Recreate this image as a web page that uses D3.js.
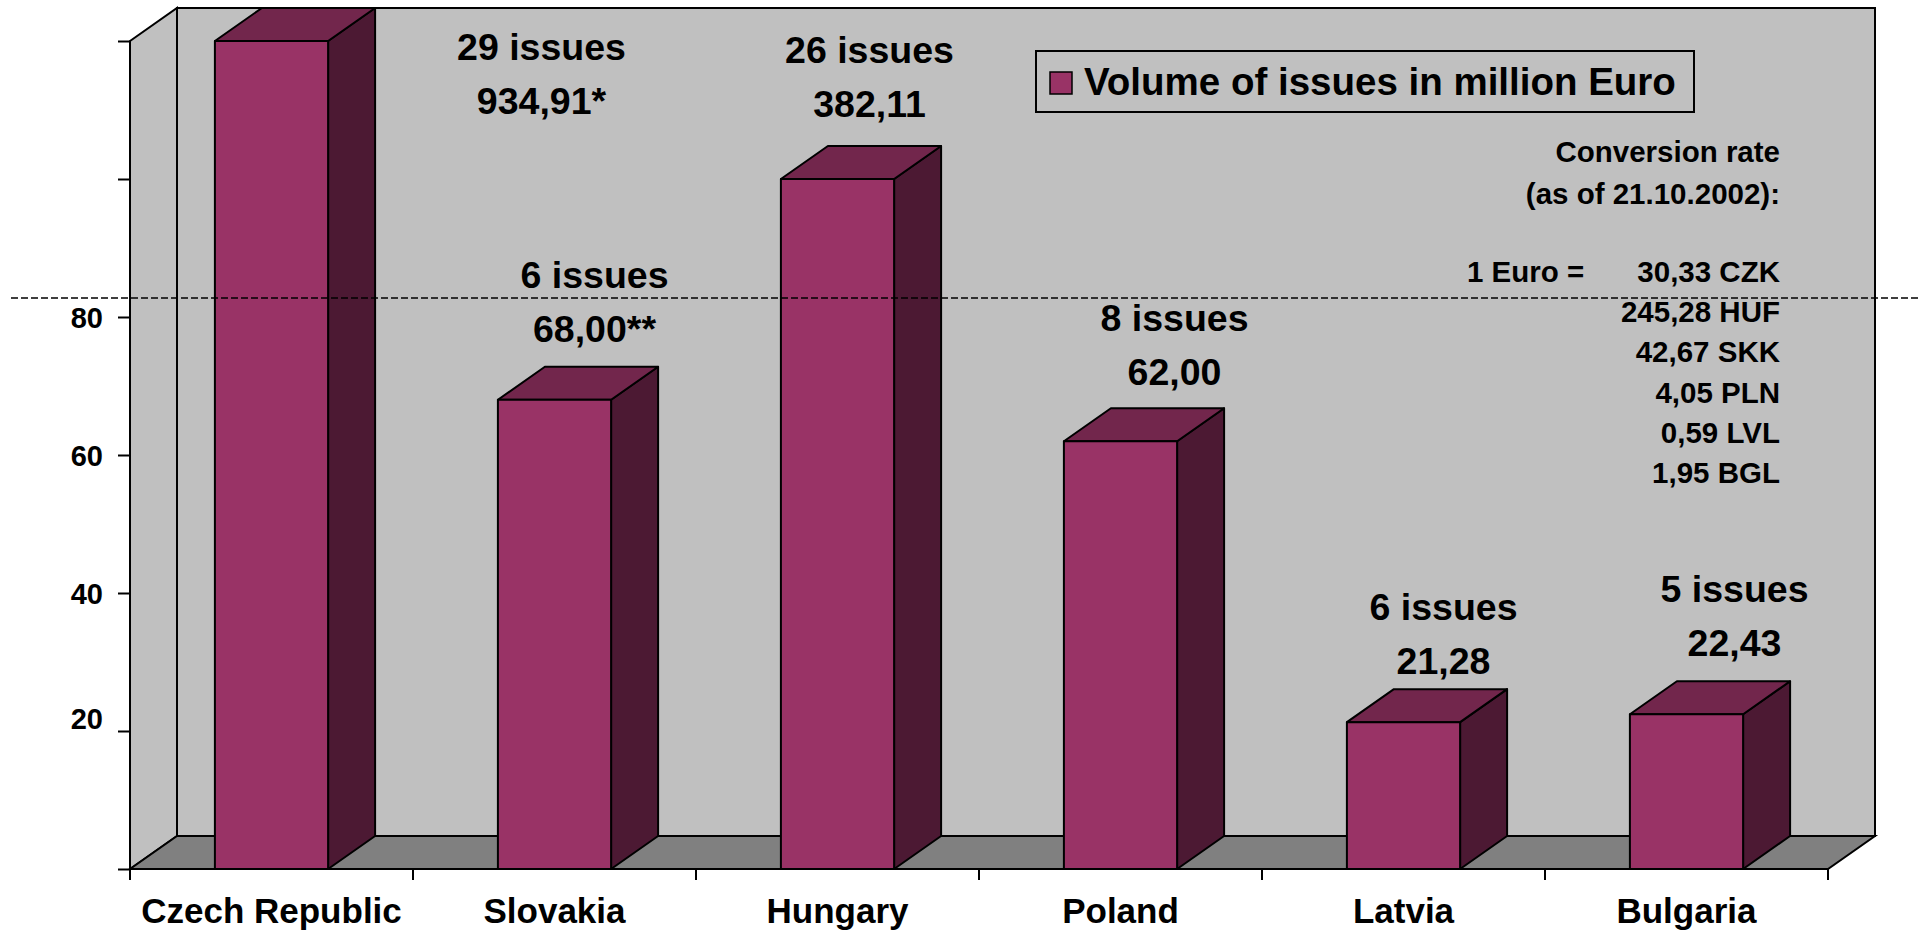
<!DOCTYPE html>
<html>
<head>
<meta charset="utf-8">
<script src="https://cdn.jsdelivr.net/npm/d3@7"></script>
<style>
  body { margin: 0; background: #ffffff; }
  svg text { font-family: "Liberation Sans", Arial, sans-serif; font-weight: bold; fill: #000; }
</style>
</head>
<body>
<div id="chart"></div>
<script>
// data
const categories = ["Czech Republic", "Slovakia", "Hungary", "Poland", "Latvia", "Bulgaria"]
const volumes = [934.91, 68.00, 382.11, 62.00, 21.28, 22.43]      // million Euro
const plotted = [120, 68.00, 100, 62.00, 21.28, 22.43]            // bar height on the broken axis
const volumeMarks = ["*", "**", "", "", "", ""]
const issues = [29, 6, 26, 8, 6, 5]
const yTicks = [0, 20, 40, 60, 80, 100, 120]
const yTickLabels = ["", "20", "40", "60", "80", "", ""]
const rateLines = ["30,33 CZK", "245,28 HUF", "42,67 SKK", "4,05 PLN", "0,59 LVL", "1,95 BGL"]
const legendLabel = "Volume of issues in million Euro"

// layout
const width = 1919, height = 933
const dx = 47, dy = 33
const colFront = "#993366", colTop = "#72264c", colSide = "#4c1933"
const wallFill = "#c0c0c0", floorFill = "#808080"
// where each "n issues / value" note sits, relative to its bar (front centre, top)
const noteOffsets = [[270, 19], [40, -112], [32, -116], [54, -110], [40, -102], [48, -112]]

const y = d3.scaleLinear().domain([0, 120]).range([869, 41])
const x = d3.scaleBand().domain(categories).range([130, 1828])
const barW = x.bandwidth() * 0.4
const x0 = x.range()[0], x1 = x.range()[1]
const yTop = y(120), yBot = y(0)

const svg = d3.create("svg")
  .attr("width", width)
  .attr("height", height)

const line = d3.line()

// back wall
svg.append("rect")
  .attr("x", x0 + dx).attr("y", yTop - dy)
  .attr("width", x1 - x0).attr("height", yBot - yTop)
  .attr("fill", wallFill).attr("stroke", "#000").attr("stroke-width", 2)

// left side wall
svg.append("path")
  .attr("d", line([[x0, yTop], [x0 + dx, yTop - dy], [x0 + dx, yBot - dy], [x0, yBot]]) + "Z")
  .attr("fill", wallFill).attr("stroke", "#000").attr("stroke-width", 2)

// floor
svg.append("path")
  .attr("d", line([[x0, yBot], [x0 + dx, yBot - dy], [x1 + dx, yBot - dy], [x1, yBot]]) + "Z")
  .attr("fill", floorFill).attr("stroke", "#000").attr("stroke-width", 2)

const bars = categories.map((c, i) => ({ c, v: plotted[i], i }))

const gBars = svg.append("g").attr("stroke", "#000").attr("stroke-width", 2).attr("stroke-linejoin", "round")
const bar = gBars.selectAll("g").data(bars).enter().append("g")

const bx = d => x(d.c) + (x.bandwidth() - barW) / 2

bar.append("path")   // side
  .attr("d", d => {
    const r = bx(d) + barW, t = y(d.v)
    return line([[r, t], [r + dx, t - dy], [r + dx, yBot - dy], [r, yBot]]) + "Z"
  })
  .attr("fill", colSide)

bar.append("path")   // top
  .attr("d", d => {
    const l = bx(d), r = l + barW, t = y(d.v)
    return line([[l, t], [l + dx, t - dy], [r + dx, t - dy], [r, t]]) + "Z"
  })
  .attr("fill", colTop)

bar.append("rect")   // front
  .attr("x", bx)
  .attr("y", d => y(d.v))
  .attr("width", barW)
  .attr("height", d => yBot - y(d.v))
  .attr("fill", colFront)

// notes above bars
const fmt = v => d3.format(".2f")(v).replace(".", ",")
const notes = svg.append("g").attr("text-anchor", "middle").style("font-size", "37.5px")
bars.forEach(d => {
  const cx = x(d.c) + x.bandwidth() / 2 + noteOffsets[d.i][0]
  const by = y(d.v) + noteOffsets[d.i][1]
  notes.append("text").attr("x", cx).attr("y", by).text(`${issues[d.i]} issues`)
  notes.append("text").attr("x", cx).attr("y", by + 54).text(fmt(volumes[d.i]) + volumeMarks[d.i])
})

// y axis
const yAxis = svg.append("g")
  .attr("transform", `translate(${x0},0)`)
  .call(d3.axisLeft(y).tickValues(yTicks).tickSize(12).tickPadding(15)
    .tickFormat((d, i) => yTickLabels[i]))
yAxis.select(".domain").remove()
yAxis.selectAll(".tick line").attr("stroke", "#000").attr("stroke-width", 2)
yAxis.selectAll(".tick text")
  .style("font-size", "29px").style("font-family", null)
  .attr("dy", d => d === 20 ? "-0.08em" : "0.35em")

// x axis: ticks on the category boundaries
const bounds = categories.map(c => x(c)).concat([x1])
svg.append("g").selectAll("line").data(bounds).enter().append("line")
  .attr("x1", d => d).attr("x2", d => d)
  .attr("y1", yBot).attr("y2", yBot + 11)
  .attr("stroke", "#000").attr("stroke-width", 2)
svg.append("line")
  .attr("x1", x0).attr("x2", x1).attr("y1", yBot).attr("y2", yBot)
  .attr("stroke", "#000").attr("stroke-width", 2)

svg.append("g").attr("text-anchor", "middle").style("font-size", "35px")
  .selectAll("text").data(categories).enter().append("text")
  .attr("x", d => x(d) + x.bandwidth() / 2)
  .attr("y", 923)
  .text(d => d)

// legend
const legend = svg.append("g")
legend.append("rect")
  .attr("x", 1036).attr("y", 51).attr("width", 658).attr("height", 61)
  .attr("fill", wallFill).attr("stroke", "#000").attr("stroke-width", 2)
legend.append("rect")
  .attr("x", 1050).attr("y", 72).attr("width", 22).attr("height", 22)
  .attr("fill", colFront).attr("stroke", "#000").attr("stroke-width", 1.5)
legend.append("text")
  .attr("x", 1084).attr("y", 95)
  .style("font-size", "38.5px")
  .text(legendLabel)

// conversion rate note
const conv = svg.append("g").style("font-size", "29.5px")
const rateHeader = ["Conversion rate", "(as of 21.10.2002):"]
rateHeader.forEach((t, i) => {
  conv.append("text").attr("x", 1780).attr("y", 162 + i * 42).attr("text-anchor", "end").text(t)
})
conv.append("text").attr("x", 1467).attr("y", 282).text("1 Euro =")
rateLines.forEach((t, i) => {
  conv.append("text").attr("x", 1780).attr("y", 282 + i * 40.2).attr("text-anchor", "end").text(t)
})

// axis break line
svg.append("line")
  .attr("x1", 11).attr("x2", width).attr("y1", 298).attr("y2", 298)
  .attr("stroke", "#000").attr("stroke-width", 1.5).attr("stroke-dasharray", "7,3")

document.getElementById("chart").appendChild(svg.node())
</script>
</body>
</html>
